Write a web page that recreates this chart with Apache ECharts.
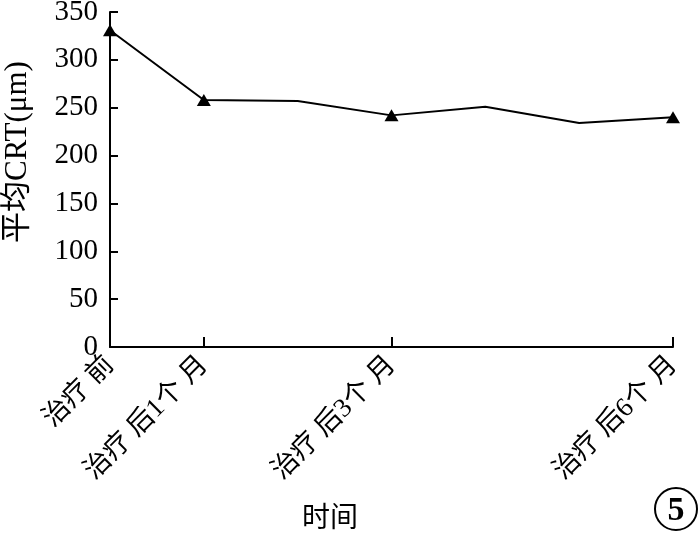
<!DOCTYPE html>
<html>
<head>
<meta charset="utf-8">
<script src="https://cdn.jsdelivr.net/npm/echarts@6/dist/echarts.min.js"></script>
<style>html,body{margin:0;padding:0;background:#fff}#c{width:700px;height:534px}</style>
</head>
<body>
<div id="c"></div>
<script>
// categories (empty string = unlabeled time point)
var categories = ['治疗前', '治疗后1个月', '', '治疗后3个月', '', '', '治疗后6个月'];
var displayLabels = ['治疗 前', '治疗 后1个 月', '', '治疗 后3个 月', '', '', '治疗 后6个 月'];
var values = [331, 258, 257, 242, 251, 234, 240];
var markedIdx = [0, 1, 3, 6];
var yTicks = [0, 50, 100, 150, 200, 250, 300, 350];
var xTitle = '时间';
var yTitle = '平均CRT(μm)';
var panelTag = '5';

var serif = '"Liberation Serif", "Noto Sans CJK SC", serif';
var chart = echarts.init(document.getElementById('c'), null, {renderer: 'canvas'});
var seriesData = values.map(function (v, i) {
  return markedIdx.indexOf(i) >= 0 ? {value: v} : {value: v, symbol: 'none'};
});
chart.setOption({
  animation: false,
  grid: {left: 110, top: 12, right: 27, bottom: 187, containLabel: false, outerBoundsMode: 'none'},
  xAxis: {
    type: 'category',
    data: categories,
    boundaryGap: false,
    axisLine: {lineStyle: {color: '#000', width: 2}},
    axisTick: {
      inside: true, length: 10, lineStyle: {color: '#000', width: 2},
      interval: function (i, v) { return categories[i] !== ''; }
    },
    axisLabel: {
      interval: 0, rotate: 45, color: '#000', fontFamily: serif, fontSize: 27, margin: 14,
      formatter: function (v, i) { return displayLabels[i]; }
    },
    splitLine: {show: false}
  },
  yAxis: {
    type: 'value',
    min: yTicks[0], max: yTicks[yTicks.length - 1], interval: 50,
    axisLine: {show: true, lineStyle: {color: '#000', width: 2}},
    axisTick: {show: true, inside: true, length: 8, lineStyle: {color: '#000', width: 2}},
    axisLabel: {color: '#000', fontFamily: serif, fontSize: 29, margin: 12},
    splitLine: {show: false}
  },
  series: [{
    type: 'line',
    data: seriesData,
    symbol: 'triangle',
    symbolSize: [14, 12],
    showAllSymbol: true,
    lineStyle: {color: '#000', width: 2},
    itemStyle: {color: '#000'}
  }],
  graphic: [
    {type: 'text', x: 330, y: 520, style: {text: xTitle, fontFamily: serif, fontSize: 28, fill: '#000', align: 'center', verticalAlign: 'middle'}},
    {type: 'text', x: 18, y: 152, rotation: Math.PI / 2, style: {text: yTitle, fontFamily: serif, fontSize: 31, fill: '#000', align: 'center', verticalAlign: 'middle'}},
    {type: 'circle', shape: {cx: 676, cy: 509, r: 21}, style: {fill: '#fff', stroke: '#000', lineWidth: 2}},
    {type: 'text', x: 676, y: 511, style: {text: panelTag, fontFamily: serif, fontSize: 34, fontWeight: 'bold', fill: '#000', align: 'center', verticalAlign: 'middle'}}
  ]
});
</script>
</body>
</html>
